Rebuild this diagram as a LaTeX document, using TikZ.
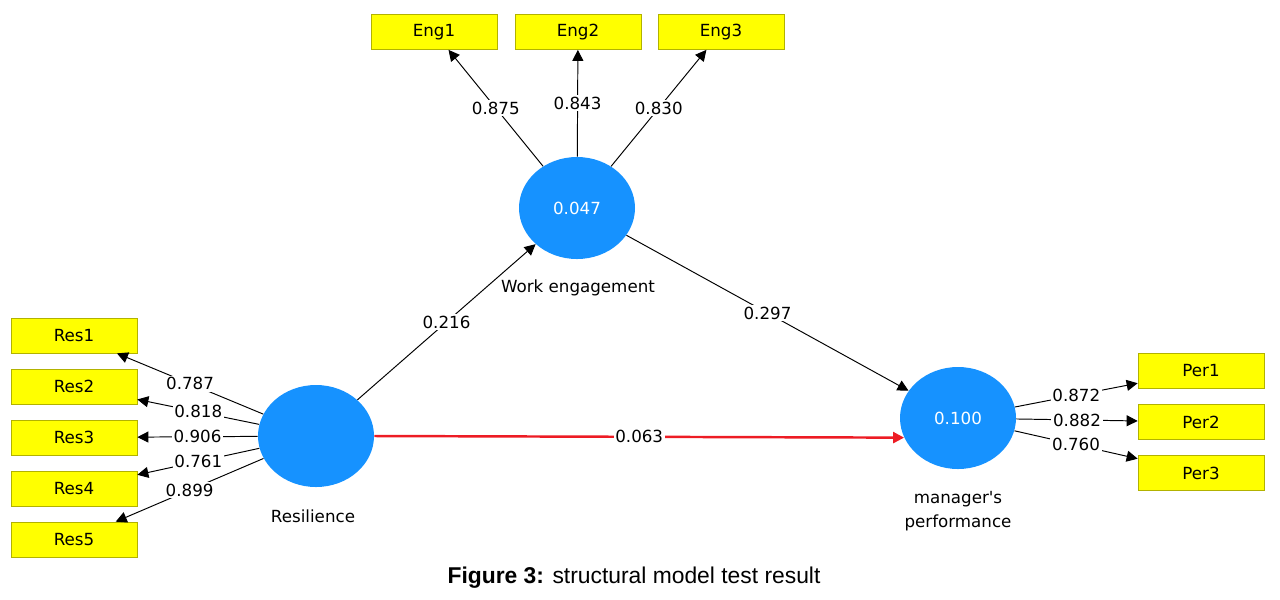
\documentclass[tikz,border=0pt]{standalone}
\usepackage{fontspec}
\setmainfont{DejaVu Sans}
\newfontfamily\capfont{Liberation Sans}
\usetikzlibrary{shapes.geometric,arrows.meta}
\definecolor{lvblue}{RGB}{22,146,255}
\definecolor{indyellow}{RGB}{255,255,0}
\definecolor{pathred}{RGB}{237,28,36}

\begin{document}
\begin{tikzpicture}[
    x=0.2mm, y=-0.2mm,
    font=\fontsize{9.5}{13.6}\selectfont,
    ind/.style={draw=indyellow!70!black, fill=indyellow, minimum width=25.2mm, minimum height=7mm, inner sep=0pt},
    lv/.style={ellipse, fill=lvblue, text=white, minimum width=23.2mm, minimum height=20.4mm, inner sep=0pt},
    load/.style={draw, line width=0.55pt, -{Triangle[length=2.2mm,width=2.2mm]}},
    val/.style={fill=white, inner sep=1pt},
    >=Triangle]

    \useasboundingbox (0,0) rectangle (1280,599);

    % latent variables
    \node[lv] (res) at (316,436) {};
    \node[lv] (eng) at (577,208) {0.047};
    \node[lv] (perf) at (958,418) {0.100};
    \node at (313,516) {Resilience};
    \node at (578,288) {Work engagement};
    \node[align=center] at (958,511) {manager\textquotesingle s\\performance};

    % indicators
    \foreach \i/\y in {1/335.5,2/386.5,3/437.5,4/488.5,5/539.5}
        \node[ind] (res\i) at (74,\y) {Res\i};
    \foreach \i/\x in {1/434,2/578,3/721}
        \node[ind] (eng\i) at (\x,32) {Eng\i};
    \foreach \i/\y in {1/371,2/422,3/473}
        \node[ind] (per\i) at (1201,\y) {Per\i};

    % outer loadings
    \foreach \i/\v in {1/0.787,2/0.818,3/0.906,4/0.761,5/0.899}
        \draw[load] (res) -- node[val] {\v} (res\i);
    \foreach \i/\v in {1/0.875,2/0.843,3/0.830}
        \draw[load] (eng) -- node[val] {\v} (eng\i);
    \foreach \i/\v in {1/0.872,2/0.882,3/0.760}
        \draw[load] (perf) -- node[val] {\v} (per\i);

    % path coefficients
    \draw[load] (res) -- node[val] {0.216} (eng);
    \draw[load] (eng) -- node[val] {0.297} (perf);
    \draw[load, pathred, line width=1.4pt] (res.east) -- node[val, text=black] {0.063} (perf.200);

    \node[font=\capfont\fontsize{13}{15}\selectfont] (caption) at (634,578) {\textbf{Figure 3:} structural model test result};
\end{tikzpicture}
\end{document}
